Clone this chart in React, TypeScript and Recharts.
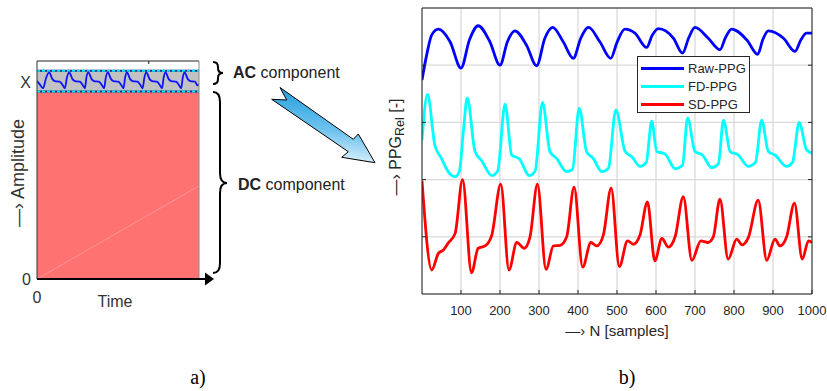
import React from 'react';
import {
  ComposedChart, LineChart, Line, XAxis, YAxis, CartesianGrid, Legend,
  ReferenceArea, ReferenceLine, Label,
} from 'recharts';

// panel a) – schematic of the AC / DC parts
const acX = [0, 1.5, 3.8, 5.5, 7.5, 9.5, 11, 14, 15.8, 17.2, 18.5, 19.9, 21.9, 23.4, 26.4, 28.2, 29.6, 30.5, 31.7,
  33.7, 35.2, 38.2, 40, 41.4, 42.5, 43.7, 45.7, 47.2, 50.2, 52, 53.4, 54.4, 55.5, 57.5, 59, 62, 63.8, 65.2, 66.3,
  67.5, 69.5, 71, 74, 75.8, 77.2, 78.2, 79.3, 81.3, 82.8, 85.8, 87.6, 89, 90, 91.1, 93.1, 94.6, 97.6, 99, 100];
const acY = [90.8, 89.5, 87.5, 92, 94.8, 91.7, 90.8, 90.5, 89, 87.5, 92.5, 94.8, 91.7, 90.8, 90.5, 89, 87.5, 92.5, 94.8,
  91.7, 90.8, 90.5, 89, 87.5, 92.5, 94.8, 91.7, 90.8, 90.5, 89, 87.5, 92.5, 94.8, 91.7, 90.8, 90.5, 89, 87.5, 92.5,
  94.8, 91.7, 90.8, 90.5, 89, 87.5, 92.5, 94.8, 91.7, 90.8, 90.5, 89, 87.5, 92.5, 94.8, 91.7, 90.8, 90.5, 88.8, 89.3];
const diagX = [0, 100];
const diagY = [0, 42.7];
const dcLevel = 86;
const acTop = 95.5;
const ampTicks = [0, 90];
const ampTickLabels = ['0', 'X'];
const timeTicks = [0];
const topTicksA = [40, 80];

// panel b) – PPG and its derivatives
const sampleTicks = [100, 200, 300, 400, 500, 600, 700, 800, 900, 1000];
const relTicks = [1, 2, 3, 4];
const legendOrder = ['Raw-PPG', 'FD-PPG', 'SD-PPG'];

const rawN = [0, 12, 25, 42, 72, 100, 122, 144, 174, 200, 219, 238, 268, 294, 315, 335, 362, 388, 407, 427, 456, 484,
  500, 520, 546, 576, 590, 606, 645, 668, 684, 700, 734, 764, 778, 794, 833, 861, 874, 888, 927, 956, 972, 986, 1000];
const rawV = [3.74, 4.18, 4.53, 4.63, 4.41, 3.95, 4.45, 4.69, 4.41, 4.0, 4.41, 4.6, 4.35, 3.99, 4.47, 4.66, 4.41, 4.12,
  4.47, 4.66, 4.41, 4.12, 4.4, 4.63, 4.56, 4.31, 4.52, 4.64, 4.47, 4.21, 4.48, 4.66, 4.47, 4.27, 4.48, 4.63, 4.44, 4.19,
  4.45, 4.6, 4.47, 4.24, 4.45, 4.56, 4.56];

const fdN = [0, 14, 33, 50, 67, 85, 96, 106, 116, 136, 153, 179, 194, 213, 230, 250, 275, 290, 309, 328, 345, 371, 386,
  403, 422, 439, 461, 478, 497, 521, 538, 559, 575, 589, 602, 623, 649, 668, 681, 700, 719, 743, 760, 773, 790, 811,
  837, 855, 871, 888, 905, 935, 950, 967, 986, 1000];
const fdV = [2.69, 3.49, 2.6, 2.37, 2.14, 2.05, 2.15, 2.84, 3.43, 2.49, 2.33, 2.07, 2.15, 3.32, 2.43, 2.36, 2.07, 2.15,
  3.35, 2.49, 2.37, 2.14, 2.18, 3.25, 2.49, 2.37, 2.14, 2.2, 3.22, 2.49, 2.4, 2.23, 2.3, 3.02, 2.49, 2.45, 2.19, 2.25,
  3.08, 2.49, 2.43, 2.21, 2.28, 3.04, 2.49, 2.43, 2.23, 2.3, 3.04, 2.49, 2.43, 2.23, 2.3, 3.0, 2.52, 2.46];

const sdN = [0, 25, 42, 55, 67, 85, 104, 127, 144, 162, 179, 202, 223, 243, 262, 277, 296, 318, 337, 354, 371, 390, 412,
  433, 448, 465, 485, 506, 527, 542, 559, 578, 597, 615, 632, 649, 670, 692, 715, 733, 747, 764, 785, 807, 821, 837,
  862, 884, 905, 918, 935, 955, 975, 991, 1000];
const sdV = [1.98, 0.42, 0.71, 0.77, 0.89, 1.06, 2.0, 0.37, 0.8, 0.84, 1.03, 1.92, 0.42, 0.9, 0.8, 1.0, 1.92, 0.43,
  0.84, 0.85, 1.0, 1.87, 0.47, 0.9, 0.84, 1.03, 1.85, 0.48, 0.93, 0.87, 1.03, 1.61, 0.58, 0.97, 0.82, 1.0, 1.7, 0.59,
  0.93, 0.9, 1.0, 1.66, 0.61, 0.96, 0.86, 0.99, 1.64, 0.59, 0.96, 0.84, 1.0, 1.59, 0.61, 0.93, 0.9];

const toPoints = (xs: number[], ys: number[]) => xs.map((n, i) => ({ n, v: ys[i] }));

const acData = toPoints(acX, acY);
const diagData = toPoints(diagX, diagY);
const rawData = toPoints(rawN, rawV);
const fdData = toPoints(fdN, fdV);
const sdData = toPoints(sdN, sdV);

const TXT = '#262626';
const SANS = '"Liberation Sans", Arial, sans-serif';

// plot box of panel b, in chart coordinates
const PL = 42, PR = 432, PT = 8, PB = 294;

const BottomTick = (p: any) => (
  <g>
    <line x1={p.x} x2={p.x} y1={PB} y2={PB - 4} stroke={TXT} />
    <text x={p.x} y={310} textAnchor="middle" dominantBaseline="central" fontSize={13} fill={TXT}>
      {p.payload.value}
    </text>
  </g>
);
const TopTick = (p: any) => <line x1={p.x} x2={p.x} y1={PT} y2={PT + 4} stroke={TXT} />;
const LeftTick = (p: any) => <line x1={PL} x2={PL + 4} y1={p.y} y2={p.y} stroke={TXT} />;
const RightTick = (p: any) => <line x1={PR} x2={PR - 4} y1={p.y} y2={p.y} stroke={TXT} />;

// panel a axes ticks
const AmpTick = (p: any) => (
  <text x={31} y={p.y} textAnchor="end" dominantBaseline="central" fontSize={16} fill="#333">
    {ampTickLabels[ampTicks.indexOf(p.payload.value)]}
  </text>
);
const TimeTick = (p: any) => (
  <text x={p.x} y={297} textAnchor="middle" dominantBaseline="central" fontSize={16} fill="#333">
    {p.payload.value}
  </text>
);
const TopTickA = (p: any) => <line x1={p.x} x2={p.x} y1={61} y2={64} stroke="#222" />;

const PpgLegend = (props: any) => {
  const items = [...((props.payload || []) as any[])].sort(
    (a, b) => legendOrder.indexOf(a.value) - legendOrder.indexOf(b.value),
  );
  return (
    <div style={{ width: 111, height: 55, border: `1px solid ${TXT}`, background: '#fff', position: 'relative', fontFamily: SANS }}>
      {items.map((it, i) => (
        <div key={i} style={{ position: 'absolute', left: 3, top: 3 + i * 18, height: 17, display: 'flex', alignItems: 'center' }}>
          <div style={{ width: 43, height: 3, background: it.color }} />
          <span style={{ marginLeft: 4, fontSize: 13, color: TXT }}>{it.value}</span>
        </div>
      ))}
    </div>
  );
};

const App: React.FC = () => (
  <div style={{ position: 'absolute', left: 0, top: 0, width: 827, height: 391, background: '#fff', fontFamily: SANS, overflow: 'hidden' }}>
    {/* a) */}
    <div style={{ position: 'absolute', left: 0, top: 0 }}>
      <ComposedChart width={230} height={320} data={acData} margin={{ left: 17, right: 30, top: 60, bottom: 16 }}>
        <XAxis dataKey="n" type="number" domain={[0, 100]} allowDataOverflow ticks={timeTicks} interval={0}
          tick={TimeTick} tickLine={false} height={25} axisLine={{ stroke: '#000', strokeWidth: 2 }}>
          <Label content={() => (
            <text x={115} y={301} textAnchor="middle" dominantBaseline="central" fontSize={16} fill="#333">Time</text>
          )} />
        </XAxis>
        <XAxis xAxisId="top" orientation="top" type="number" domain={[0, 100]} allowDataOverflow ticks={topTicksA}
          interval={0} tick={TopTickA} tickLine={false} height={1} axisLine={{ stroke: '#222' }} />
        <YAxis type="number" domain={[0, 100]} allowDataOverflow ticks={ampTicks} interval={0} tick={AmpTick}
          tickLine={false} width={20} axisLine={{ stroke: '#333' }}>
          <Label content={() => (
            <text transform="translate(18,173) rotate(-90)" textAnchor="middle" dominantBaseline="central" fontSize={18} fill="#333">
              —› Amplitude
            </text>
          )} />
        </YAxis>
        <YAxis yAxisId="right" orientation="right" type="number" domain={[0, 100]} allowDataOverflow ticks={[]}
          tick={false} tickLine={false} width={1} axisLine={{ stroke: '#888' }} />
        <ReferenceArea x1={0} x2={100} y1={0} y2={dcLevel} fill="#ff7272" fillOpacity={1} stroke="none" />
        <ReferenceArea x1={0} x2={100} y1={dcLevel} y2={acTop} fill="#c2c2c2" fillOpacity={1} stroke="none" />
        <Line data={diagData} dataKey="v" type="linear" stroke="rgba(255,255,255,0.25)" strokeWidth={1} dot={false}
          isAnimationActive={false} />
        <ReferenceLine y={dcLevel} stroke="#1b2a7a" strokeWidth={2} />
        <ReferenceLine y={dcLevel} stroke="#00e8ff" strokeWidth={2} strokeDasharray="3 2" />
        <ReferenceLine y={acTop} stroke="#1b2a7a" strokeWidth={2} />
        <ReferenceLine y={acTop} stroke="#00e8ff" strokeWidth={2} strokeDasharray="3 2" />
        <Line dataKey="v" type="monotone" stroke="#0a14ff" strokeWidth={1.8} dot={false} isAnimationActive={false} />
      </ComposedChart>
    </div>

    {/* b) */}
    <div style={{ position: 'absolute', left: 380, top: 0 }}>
      <LineChart width={447} height={391} margin={{ left: 32, right: 10, top: 4, bottom: 67 }}>
        <CartesianGrid stroke="#dadada" strokeWidth={1.3} />
        <XAxis dataKey="n" type="number" domain={[0, 1000]} allowDataOverflow ticks={sampleTicks} interval={0}
          tick={BottomTick} tickLine={false} height={30} axisLine={{ stroke: TXT }}>
          <Label content={() => (
            <text x={237} y={330} textAnchor="middle" dominantBaseline="central" fontSize={15} fill={TXT}>—› N [samples]</text>
          )} />
        </XAxis>
        <XAxis xAxisId="t" orientation="top" type="number" domain={[0, 1000]} allowDataOverflow ticks={sampleTicks}
          interval={0} tick={TopTick} tickLine={false} height={4} axisLine={{ stroke: TXT }} />
        <YAxis type="number" domain={[0, 5]} allowDataOverflow ticks={relTicks} interval={0} tick={LeftTick}
          tickLine={false} width={10} axisLine={{ stroke: TXT }}>
          <Label content={() => (
            <text transform="translate(15,147) rotate(-90)" textAnchor="middle" dominantBaseline="central" fontSize={16} fill={TXT}>
              <tspan>—› PPG</tspan>
              <tspan fontSize={12.5} dy={5}>Rel</tspan>
              <tspan dy={-5}> [-]</tspan>
            </text>
          )} />
        </YAxis>
        <YAxis yAxisId="r" orientation="right" type="number" domain={[0, 5]} allowDataOverflow ticks={relTicks}
          interval={0} tick={RightTick} tickLine={false} width={5} axisLine={{ stroke: TXT }} />
        <Line data={rawData} dataKey="v" name="Raw-PPG" type="monotone" stroke="#0000ff" strokeWidth={2.8} dot={false}
          isAnimationActive={false} />
        <Line data={fdData} dataKey="v" name="FD-PPG" type="monotone" stroke="#00ffff" strokeWidth={2.8} dot={false}
          isAnimationActive={false} />
        <Line data={sdData} dataKey="v" name="SD-PPG" type="monotone" stroke="#ff0000" strokeWidth={2.8} dot={false}
          isAnimationActive={false} />
        <Legend layout="horizontal" verticalAlign="middle" align="center" content={PpgLegend}
          wrapperStyle={{ left: 257, top: 56, width: 113, height: 57 }} />
      </LineChart>
    </div>

    {/* braces, x arrow, big arrow, captions */}
    <svg width={827} height={391} style={{ position: 'absolute', left: 0, top: 0, pointerEvents: 'none' }}>
      <defs>
        <linearGradient id="arrowFill" x1="0.6" y1="0" x2="0.4" y2="1">
          <stop offset="0%" stopColor="#1597dc" />
          <stop offset="55%" stopColor="#6cc2ee" />
          <stop offset="100%" stopColor="#f2fafe" />
        </linearGradient>
      </defs>
      <line x1={198} y1={279} x2={206} y2={279} stroke="#000" strokeWidth={2} />
      <polygon points="205,272.5 214,279 205,285.5" fill="#000" />
      <path d="M213,62 Q218,62 218,67 L218,68 Q218,73 223,73 Q218,73 218,78 L218,79 Q218,84 213,84"
        fill="none" stroke="#000" strokeWidth={2} />
      <path d="M213,92 Q220,92 220,102 L220,173 Q220,183 227,183 Q220,183 220,193 L220,263 Q220,273 213,273"
        fill="none" stroke="#000" strokeWidth={2} />
      <polygon points="280,87.5 353.3,139.3 358.3,134 375,162.7 341.7,157.3 348.3,151.7 271.7,99.3 286.7,100"
        fill="url(#arrowFill)" stroke="#000" strokeWidth={1} strokeLinejoin="miter" />
      <text x={233} y={72} dominantBaseline="central" fontSize={16} fill="#222">
        <tspan fontWeight="bold">AC</tspan> component
      </text>
      <text x={238} y={184} dominantBaseline="central" fontSize={16} fill="#222">
        <tspan fontWeight="bold">DC</tspan> component
      </text>
      <text x={198} y={384} textAnchor="middle" fontSize={20} fontFamily='"Liberation Serif", "Times New Roman", serif' fill="#000">a)</text>
      <text x={627} y={384} textAnchor="middle" fontSize={20} fontFamily='"Liberation Serif", "Times New Roman", serif' fill="#000">b)</text>
    </svg>
  </div>
);

export default App;
